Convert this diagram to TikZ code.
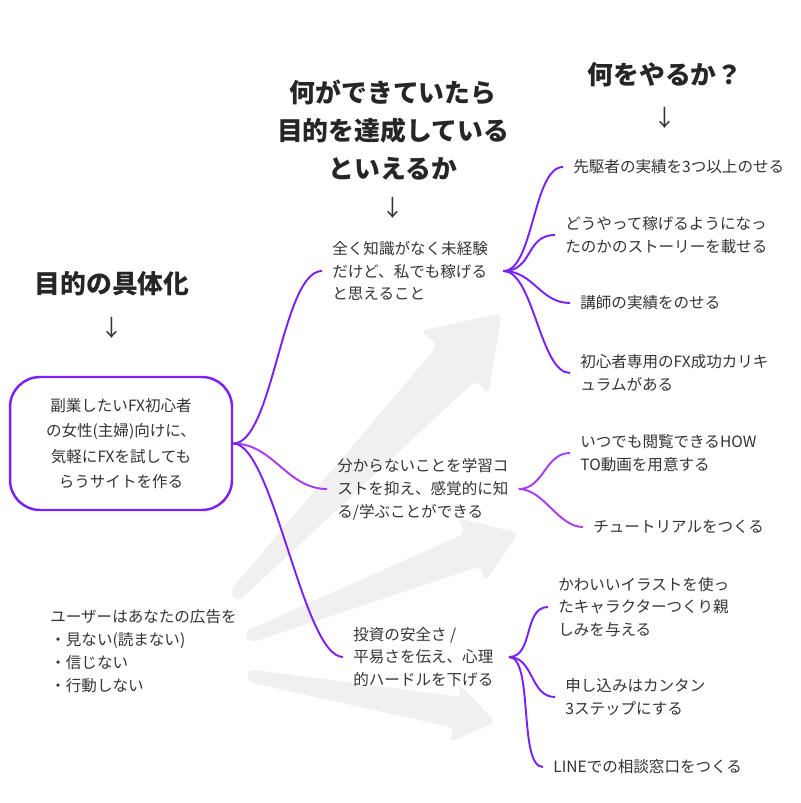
\documentclass[tikz,border=0pt]{standalone}
\usepackage{fontspec}
\setmainfont{Noto Sans CJK JP}

\definecolor{viola}{HTML}{7A22F5}
\definecolor{lilla}{HTML}{A93BF3}
\definecolor{grigio}{HTML}{F0F0F0}
\definecolor{testo}{HTML}{333333}

\begin{document}
\begin{tikzpicture}[x=0.02cm, y=-0.02cm]

        % Stili della mappa
        \tikzset{
            titolo/.style={font=\fontsize{14.7}{21.5}\selectfont\bfseries, text=black!85, align=center, inner sep=0},
            freccina/.style={font=\fontsize{13}{13}\selectfont, text=black!80, inner sep=0},
            voce/.style={font=\fontsize{8.85}{13}\selectfont, text=testo, align=left, anchor=west, inner xsep=5.7pt, inner ysep=0},
            ramo/.style={draw=viola, line width=1.1pt},
            freccia/.style={fill=grigio, rounded corners=4pt}
        }

        \useasboundingbox (0,0) rectangle (800,803);

        % Frecce grigie di sfondo
        \fill[freccia] (229,592) -- (438,345) -- (420,331) -- (502,313) -- (488,395) -- (476,380) -- (238,602) -- cycle;
        \fill[freccia] (244,632) -- (466,533) -- (457,518) -- (519,533) -- (485,582) -- (481,566) -- (250,643) -- cycle;
        \fill[freccia] (247,669) -- (462,697) -- (457,682) -- (496,722) -- (448,743) -- (455,728) -- (248,682) -- cycle;

        % Titoli delle colonne
        \node[titolo] (concreto) at (112,284) {目的の具体化};
        \node[freccina] (giu1) at (112,328) {↓};
        \node[titolo] (traguardo) at (393,130) {何ができていたら\\目的を達成している\\といえるか};
        \node[freccina] (giu2) at (393,208) {↓};
        \node[titolo] (azioni) at (665,75) {何をやるか？};
        \node[freccina] (giu3) at (665,118) {↓};

        % Obiettivo centrale
        \node[draw=viola, line width=1.4pt, rounded corners=0.6cm, minimum width=4.44cm, minimum height=2.66cm,
              align=center, font=\fontsize{8.85}{14.5}\selectfont, text=testo] (obiettivo) at (121,443.5)
              {副業したいFX初心者\\の女性(主婦)向けに、\\気軽にFXを試しても\\らうサイトを作る};

        % Nota sugli utenti
        \node[voce] (utente) at (40,651) {ユーザーはあなたの広告を\\・見ない(読まない)\\・信じない\\・行動しない};

        % Traguardi
        \node[voce] (a1) at (322,271) {全く知識がなく未経験\\だけど、私でも稼げる\\と思えること};
        \node[voce] (a2) at (327,489) {分からないことを学習コ\\ストを抑え、感覚的に知\\る/学ぶことができる};
        \node[voce] (a3) at (343,657) {投資の安全さ /\\平易さを伝え、心理\\的ハードルを下げる};

        % Azioni
        \node[voce] (b11) at (563,167) {先駆者の実績を3つ以上のせる};
        \node[voce] (b12) at (555,235) {どうやって稼げるようになっ\\たのかのストーリーを載せる};
        \node[voce] (b13) at (570,303) {講師の実績をのせる};
        \node[voce] (b14) at (570,373) {初心者専用のFX成功カリキ\\ュラムがある};
        \node[voce] (b21) at (570,453) {いつでも閲覧できるHOW\\TO動画を用意する};
        \node[voce] (b22) at (583,527) {チュートリアルをつくる};
        \node[voce] (b31) at (548,607) {かわいいイラストを使っ\\たキャラクターつくり親\\しみを与える};
        \node[voce] (b32) at (555,697) {申し込みはカンタン\\3ステップにする};
        \node[voce] (b33) at (543,767) {LINEでの相談窓口をつくる};

        % Rami dall'obiettivo
        \draw[ramo] (obiettivo.east) .. controls +(40,0) and +(-40,0) .. (a1.west);
        \draw[ramo, draw=lilla] (obiettivo.east) .. controls +(40,0) and +(-40,0) .. (a2.west);
        \draw[ramo] (obiettivo.east) .. controls +(40,0) and +(-40,0) .. (a3.west);

        % Rami verso le azioni
        \draw[ramo] ([xshift=3pt]a1.east) .. controls +(30,0) and +(-30,0) .. (b11.west);
        \draw[ramo] ([xshift=3pt]a1.east) .. controls +(30,0) and +(-30,0) .. (b12.west);
        \draw[ramo] ([xshift=3pt]a1.east) .. controls +(30,0) and +(-30,0) .. (b13.west);
        \draw[ramo] ([xshift=3pt]a1.east) .. controls +(30,0) and +(-30,0) .. (b14.west);
        \draw[ramo, draw=lilla] (a2.east) .. controls +(25,0) and +(-25,0) .. (b21.west);
        \draw[ramo, draw=lilla] (a2.east) .. controls +(25,0) and +(-25,0) .. (b22.west);
        \draw[ramo] ([xshift=3pt]a3.east) .. controls +(25,0) and +(-25,0) .. (b31.west);
        \draw[ramo] ([xshift=3pt]a3.east) .. controls +(25,0) and +(-25,0) .. (b32.west);
        \draw[ramo] ([xshift=3pt]a3.east) .. controls +(25,0) and +(-25,0) .. (b33.west);

    \end{tikzpicture}
\end{document}
